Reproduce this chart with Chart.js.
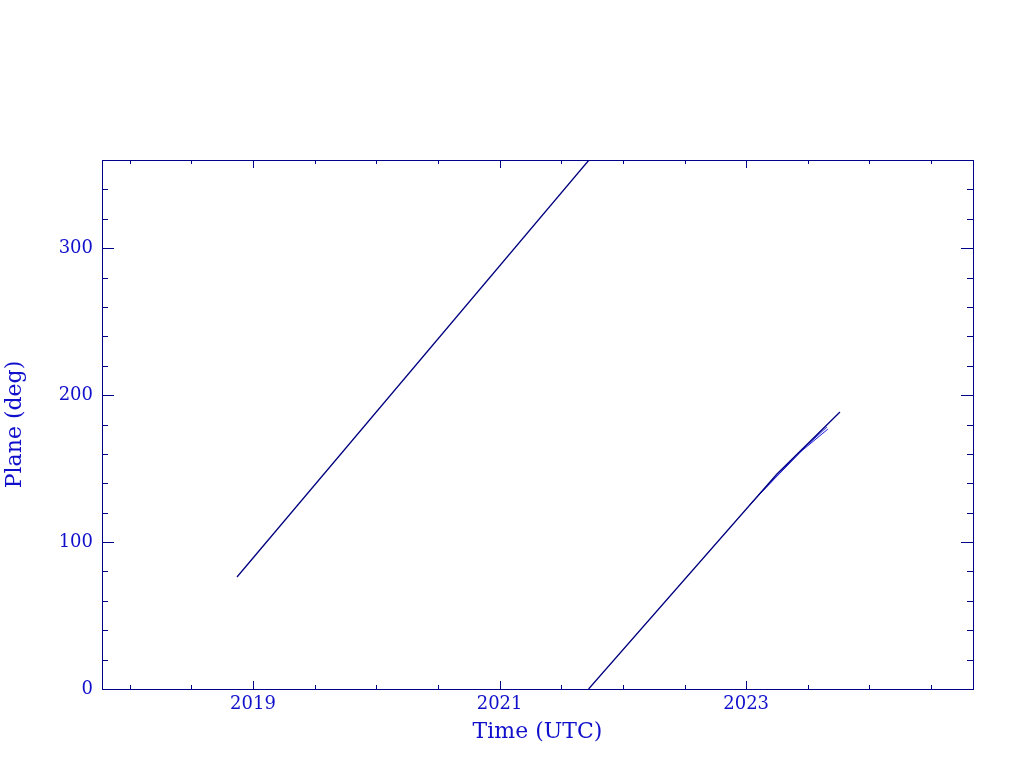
<!DOCTYPE html>
<html>
<head>
<meta charset="utf-8">
<script src="https://cdn.jsdelivr.net/npm/chart.js@4.4.1/dist/chart.umd.min.js"></script>
<style>
  html, body { margin: 0; padding: 0; background: #fff; }
  canvas { display: block; }
</style>
</head>
<body>
<canvas id="mycanvas" width="1024" height="768"></canvas>
<script>
// plane angle vs time (decimal years)
var timeA = [2018.87, 2021.725];
var planeA = [76.2, 360];
var timeB = [2021.722, 2023.25, 2023.761];
var planeB = [0, 146.3, 188.5];
var timeC = [2023.03, 2023.4, 2023.655];
var planeC = [125.3, 158.6, 178.3];
var timeD = [2023.10, 2023.45, 2023.663];
var planeD = [131.9, 162.0, 176.9];

var xMajor = [2019, 2021, 2023];
var yMajor = [0, 100, 200, 300];
var xMin = 2017.775, xMax = 2024.84;
var yMin = 0, yMax = 360;

var axisColor = '#00008b';
var textColor = '#1010cc';
var fontFamily = "'DejaVu Serif', serif";

function pts(xs, ys){
	var out = [];
	for (var i in xs) out.push({x: xs[i], y: ys[i]});
	return out;
}

function line(xs, ys, color, w){
	return {
		data: pts(xs, ys),
		borderColor: color,
		borderWidth: w,
		pointRadius: 0,
		fill: false,
		tension: 0
	};
}

// box and inward ticks like the original plot
var frameTicks = {
	id: 'frameTicks',
	afterDraw: function(chart){
		var ctx = chart.ctx, a = chart.chartArea;
		var xs = chart.scales.x, ys = chart.scales.y;
		ctx.save();
		ctx.strokeStyle = axisColor;
		ctx.lineWidth = 1;
		ctx.strokeRect(a.left + 0.5, a.top + 0.5, a.right - a.left, a.bottom - a.top);
		ctx.beginPath();
		for (var t = 2018; t <= 2024.5; t += 0.5) {
			var px = Math.round(xs.getPixelForValue(t)) + 0.5;
			var len = xMajor.indexOf(t) >= 0 ? 8 : 4;
			ctx.moveTo(px, a.bottom); ctx.lineTo(px, a.bottom - len);
			ctx.moveTo(px, a.top); ctx.lineTo(px, a.top + len);
		}
		for (var v = 20; v < yMax; v += 20) {
			var py = Math.round(ys.getPixelForValue(v)) + 0.5;
			var l = yMajor.indexOf(v) >= 0 ? 12 : 6;
			ctx.moveTo(a.left, py); ctx.lineTo(a.left + l, py);
			ctx.moveTo(a.right, py); ctx.lineTo(a.right - l, py);
		}
		ctx.stroke();
		ctx.restore();
	}
};

var ctx = document.getElementById('mycanvas');
var chart = new Chart(ctx, {
	type: 'line',
	data: {
		datasets: [
			line(timeA, planeA, '#000080', 1.3),
			line(timeB, planeB, '#000080', 1.3),
			line(timeC, planeC, '#1818d8', 1),
			line(timeD, planeD, '#1818d8', 1)
		]
	},
	options: {
		responsive: false,
		animation: false,
		layout: { padding: { top: 160, right: 51, bottom: 0, left: 0 } },
		plugins: { legend: { display: false }, tooltip: { enabled: false } },
		scales: {
			x: {
				type: 'linear',
				min: xMin,
				max: xMax,
				afterBuildTicks: function(s){ s.ticks = xMajor.map(function(v){ return {value: v}; }); },
				afterFit: function(s){ s.height = 79; },
				grid: { display: false, drawTicks: false },
				border: { display: false },
				ticks: {
					color: textColor,
					font: { family: fontFamily, size: 18 },
					padding: 5,
					maxRotation: 0,
					callback: function(v){ return String(v); }
				},
				title: {
					display: true,
					text: 'Time (UTC)',
					color: textColor,
					font: { family: fontFamily, size: 22 },
					padding: { top: 0, bottom: 23 }
				}
			},
			y: {
				type: 'linear',
				min: yMin,
				max: yMax,
				afterBuildTicks: function(s){ s.ticks = yMajor.map(function(v){ return {value: v}; }); },
				afterFit: function(s){ s.width = 102; },
				grid: { display: false, drawTicks: false },
				border: { display: false },
				ticks: {
					color: textColor,
					font: { family: fontFamily, size: 18 },
					padding: 9,
					callback: function(v){ return String(v); }
				},
				title: {
					display: true,
					text: 'Plane (deg)',
					color: textColor,
					font: { family: fontFamily, size: 22 },
					padding: { top: 2, bottom: 0 }
				}
			}
		}
	},
	plugins: [frameTicks]
});
</script>
</body>
</html>
